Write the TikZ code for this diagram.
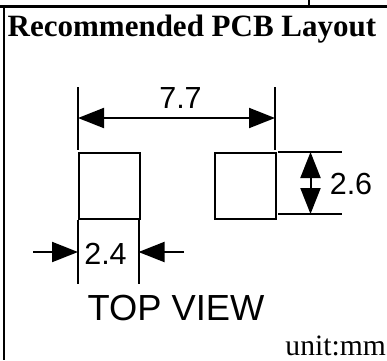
\documentclass[tikz,border=0pt]{standalone}
\usepackage{fontspec}
\setmainfont{Liberation Serif}
\newfontfamily\arialf{Liberation Sans}
\usetikzlibrary{arrows.meta}
\tikzset{
  frameline/.style={line width=2.6pt,black},
  padbox/.style={draw,line width=2pt,minimum width=61pt,minimum height=66pt,inner sep=0,anchor=north west},
  extline/.style={line width=2pt,black},
  dimline/.style={line width=2pt,black},
  dimtip/.style={-{Triangle[length=26pt,width=20pt]}},
  dimtext/.style={font=\arialf\fontsize{30.5}{30.5}\selectfont,inner sep=0,anchor=base},
}
\begin{document}
\begin{tikzpicture}[x=1pt,y=-1pt]
\useasboundingbox (0,0) rectangle (387,360);
\coordinate (tl) at (0,6.5); \coordinate (tr) at (387,6.5);
\coordinate (ll) at (4,6.5); \coordinate (lb) at (4,360);
\coordinate (tk) at (309,0); \coordinate (tkb) at (309,6.5);
\draw[frameline] (tl) -- (tr);
\draw[frameline] (ll) -- (lb);
\draw[line width=2pt] (tk) -- (tkb);
\node[inner sep=0,anchor=base west,font=\bfseries\fontsize{31}{31}\selectfont] (title) at (7.5,36) {Recommended PCB Layout};
\node[padbox] (padL) at (78,151.5) {};
\node[padbox] (padR) at (213.5,151.5) {};
\coordinate (a1) at (78,87); \coordinate (a2) at (78,150);
\coordinate (b1) at (275,87); \coordinate (b2) at (275,150);
\draw[extline] (a1) -- (a2);
\draw[extline] (b1) -- (b2);
\coordinate (h1) at (78,118); \coordinate (h2) at (275,118);
\draw[dimline,{Triangle[length=26pt,width=20pt]}-{Triangle[length=26pt,width=20pt]}] (h1) -- (h2);
\node[dimtext] (t77) at (180.5,108) {7.7};
\coordinate (c1) at (278,152); \coordinate (c2) at (342,152);
\coordinate (d1) at (278,214); \coordinate (d2) at (342,214);
\draw[extline] (c1) -- (c2);
\draw[extline] (d1) -- (d2);
\coordinate (v1) at (310.5,152); \coordinate (v2) at (310.5,214);
\draw[dimline,{Triangle[length=26pt,width=20pt]}-{Triangle[length=26pt,width=20pt]}] (v1) -- (v2);
\node[dimtext] (t26) at (351,194) {2.6};
\coordinate (e1) at (78,220); \coordinate (e2) at (78,284);
\coordinate (f1) at (138.5,220); \coordinate (f2) at (138.5,284);
\draw[extline] (e1) -- (e2);
\draw[extline] (f1) -- (f2);
\coordinate (g1) at (33,252); \coordinate (g2) at (78,252);
\coordinate (i1) at (184,252); \coordinate (i2) at (138.5,252);
\draw[dimline,dimtip] (g1) -- (g2);
\draw[dimline,dimtip] (i1) -- (i2);
\node[dimtext] (t24) at (105.5,264) {2.4};
\node[inner sep=0,anchor=base,font=\arialf\fontsize{36.3}{36.3}\selectfont] (view) at (176,320) {TOP VIEW};
\node[inner sep=0,anchor=base east,font=\fontsize{29.6}{29.6}\selectfont] (unit) at (386,355) {unit:mm};
\end{tikzpicture}
\end{document}
